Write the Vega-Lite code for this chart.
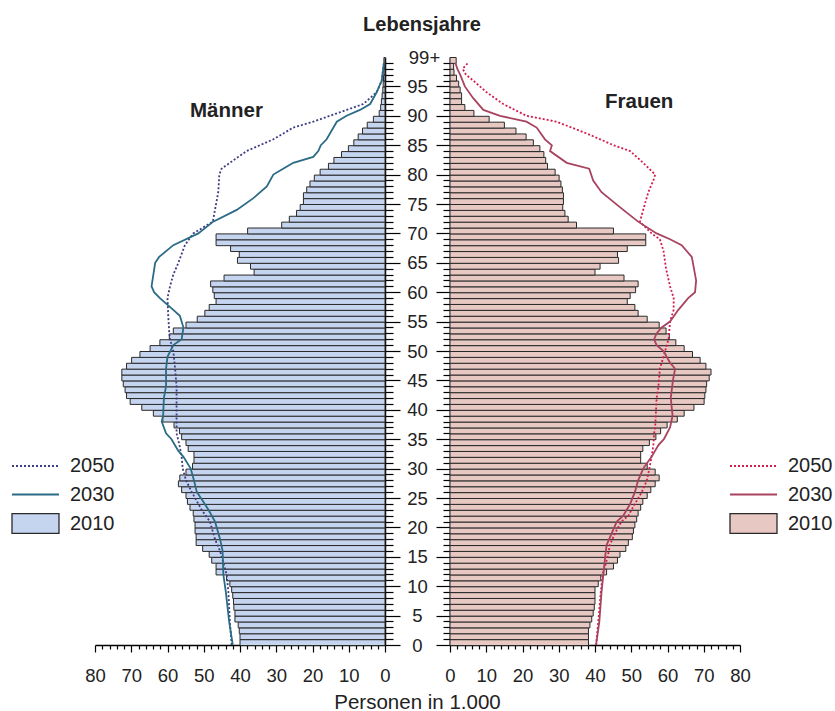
{
  "$schema": "https://vega.github.io/schema/vega-lite/v6.json",
  "background": "white",
  "padding": {"left": 11, "top": 14, "right": 0, "bottom": 0},
  "config": {
    "font": "Liberation Sans",
    "view": {"stroke": null},
    "axis": {"grid": false, "domainColor": "#000", "domainWidth": 1.5, "tickColor": "#000", "tickWidth": 1.2, "labelColor": "#222", "labelFont": "Liberation Sans", "labelFontSize": 18.5, "labelOverlap": false, "labelBound": false, "labelFlush": false},
    "legend": {"labelFont": "Liberation Sans", "labelFontSize": 20, "labelColor": "#222", "padding": 0, "title": null, "symbolSize": 2209, "labelOffset": 10},
    "title": {"font": "Liberation Sans", "color": "#222"}
  },
  "title": {"text": "Lebensjahre", "fontSize": 20, "fontWeight": "bold", "anchor": "middle", "offset": 14},
  "bounds": "flush",
  "spacing": 65,
  "resolve": {"scale": {"fill": "independent", "stroke": "independent"}, "legend": {"fill": "independent", "stroke": "independent"}},
  "datasets": {
    "maenner": [
      {"year":"2010","age":0,"value":40.0},{"year":"2010","age":1,"value":40.0},{"year":"2010","age":2,"value":40.2},{"year":"2010","age":3,"value":40.5},{"year":"2010","age":4,"value":41.4},{"year":"2010","age":5,"value":41.4},{"year":"2010","age":6,"value":41.7},{"year":"2010","age":7,"value":41.8},{"year":"2010","age":8,"value":42.0},{"year":"2010","age":9,"value":42.3},
      {"year":"2010","age":10,"value":42.8},{"year":"2010","age":11,"value":43.7},{"year":"2010","age":12,"value":46.6},{"year":"2010","age":13,"value":46.6},{"year":"2010","age":14,"value":47.8},{"year":"2010","age":15,"value":48.5},{"year":"2010","age":16,"value":50.3},{"year":"2010","age":17,"value":52.1},{"year":"2010","age":18,"value":52.1},{"year":"2010","age":19,"value":52.4},
      {"year":"2010","age":20,"value":52.4},{"year":"2010","age":21,"value":52.7},{"year":"2010","age":22,"value":52.9},{"year":"2010","age":23,"value":53.8},{"year":"2010","age":24,"value":54.5},{"year":"2010","age":25,"value":54.9},{"year":"2010","age":26,"value":56.1},{"year":"2010","age":27,"value":57.0},{"year":"2010","age":28,"value":56.6},{"year":"2010","age":29,"value":54.9},
      {"year":"2010","age":30,"value":53.1},{"year":"2010","age":31,"value":52.7},{"year":"2010","age":32,"value":52.7},{"year":"2010","age":33,"value":54.3},{"year":"2010","age":34,"value":54.9},{"year":"2010","age":35,"value":56.1},{"year":"2010","age":36,"value":56.7},{"year":"2010","age":37,"value":58.2},{"year":"2010","age":38,"value":61.3},{"year":"2010","age":39,"value":63.9},
      {"year":"2010","age":40,"value":67.1},{"year":"2010","age":41,"value":70.3},{"year":"2010","age":42,"value":71.3},{"year":"2010","age":43,"value":71.7},{"year":"2010","age":44,"value":72.2},{"year":"2010","age":45,"value":72.6},{"year":"2010","age":46,"value":72.6},{"year":"2010","age":47,"value":71.3},{"year":"2010","age":48,"value":69.9},{"year":"2010","age":49,"value":67.6},
      {"year":"2010","age":50,"value":64.8},{"year":"2010","age":51,"value":62.1},{"year":"2010","age":52,"value":59.5},{"year":"2010","age":53,"value":58.4},{"year":"2010","age":54,"value":54.9},{"year":"2010","age":55,"value":51.8},{"year":"2010","age":56,"value":49.7},{"year":"2010","age":57,"value":48.5},{"year":"2010","age":58,"value":46.6},{"year":"2010","age":59,"value":47.1},
      {"year":"2010","age":60,"value":47.5},{"year":"2010","age":61,"value":48.1},{"year":"2010","age":62,"value":44.4},{"year":"2010","age":63,"value":36.1},{"year":"2010","age":64,"value":37.1},{"year":"2010","age":65,"value":40.7},{"year":"2010","age":66,"value":40.2},{"year":"2010","age":67,"value":42.6},{"year":"2010","age":68,"value":46.6},{"year":"2010","age":69,"value":46.6},
      {"year":"2010","age":70,"value":37.9},{"year":"2010","age":71,"value":28.5},{"year":"2010","age":72,"value":26.4},{"year":"2010","age":73,"value":24.4},{"year":"2010","age":74,"value":23.4},{"year":"2010","age":75,"value":22.5},{"year":"2010","age":76,"value":22.5},{"year":"2010","age":77,"value":21.6},{"year":"2010","age":78,"value":20.7},{"year":"2010","age":79,"value":19.5},
      {"year":"2010","age":80,"value":17.9},{"year":"2010","age":81,"value":15.6},{"year":"2010","age":82,"value":14.1},{"year":"2010","age":83,"value":12.0},{"year":"2010","age":84,"value":10.1},{"year":"2010","age":85,"value":8.6},{"year":"2010","age":86,"value":7.4},{"year":"2010","age":87,"value":6.2},{"year":"2010","age":88,"value":4.9},{"year":"2010","age":89,"value":3.2},
      {"year":"2010","age":90,"value":1.6},{"year":"2010","age":91,"value":1.2},{"year":"2010","age":92,"value":1.0},{"year":"2010","age":93,"value":0.8},{"year":"2010","age":94,"value":0.6},{"year":"2010","age":95,"value":0.5},{"year":"2010","age":96,"value":0.4},{"year":"2010","age":97,"value":0.3},{"year":"2010","age":98,"value":0.2},{"year":"2010","age":99,"value":0.3},
      {"year":"2030","age":0,"value":42.0},{"year":"2030","age":4,"value":43.0},{"year":"2030","age":9,"value":43.9},{"year":"2030","age":12,"value":44.6},{"year":"2030","age":16,"value":44.8},{"year":"2030","age":18,"value":45.5},{"year":"2030","age":21,"value":46.9},{"year":"2030","age":23,"value":48.7},{"year":"2030","age":25,"value":50.8},{"year":"2030","age":26,"value":51.9},{"year":"2030","age":28,"value":52.7},{"year":"2030","age":30,"value":53.6},{"year":"2030","age":32,"value":55.6},{"year":"2030","age":33,"value":57.0},{"year":"2030","age":35,"value":58.9},{"year":"2030","age":36,"value":60.4},{"year":"2030","age":38,"value":61.6},{"year":"2030","age":39,"value":61.2},{"year":"2030","age":42,"value":61.0},{"year":"2030","age":44,"value":60.4},{"year":"2030","age":47,"value":60.4},{"year":"2030","age":49,"value":60.0},{"year":"2030","age":51,"value":58.4},{"year":"2030","age":52,"value":56.1},{"year":"2030","age":54,"value":55.6},{"year":"2030","age":56,"value":56.6},{"year":"2030","age":57,"value":58.4},{"year":"2030","age":59,"value":62.1},{"year":"2030","age":60,"value":63.7},{"year":"2030","age":61,"value":64.4},{"year":"2030","age":63,"value":63.9},{"year":"2030","age":65,"value":63.4},{"year":"2030","age":66,"value":62.3},{"year":"2030","age":68,"value":58.4},{"year":"2030","age":70,"value":51.5},{"year":"2030","age":72,"value":47.4},{"year":"2030","age":74,"value":40.9},{"year":"2030","age":76,"value":36.3},{"year":"2030","age":78,"value":32.6},{"year":"2030","age":80,"value":30.8},{"year":"2030","age":81,"value":28.1},{"year":"2030","age":82,"value":25.3},{"year":"2030","age":83,"value":19.8},{"year":"2030","age":84,"value":18.4},{"year":"2030","age":85,"value":17.7},{"year":"2030","age":86,"value":16.1},{"year":"2030","age":89,"value":13.3},{"year":"2030","age":90,"value":10.6},{"year":"2030","age":91,"value":6.9},{"year":"2030","age":92,"value":4.1},{"year":"2030","age":94,"value":2.3},{"year":"2030","age":96,"value":0.9},{"year":"2030","age":98,"value":0.5},{"year":"2030","age":99,"value":0.3},
      {"year":"2050","age":0,"value":42.3},{"year":"2050","age":4,"value":42.8},{"year":"2050","age":9,"value":43.2},{"year":"2050","age":12,"value":43.7},{"year":"2050","age":16,"value":45.5},{"year":"2050","age":18,"value":46.9},{"year":"2050","age":21,"value":48.3},{"year":"2050","age":23,"value":50.6},{"year":"2050","age":25,"value":52.4},{"year":"2050","age":26,"value":53.3},{"year":"2050","age":28,"value":54.9},{"year":"2050","age":30,"value":55.8},{"year":"2050","age":32,"value":56.1},{"year":"2050","age":34,"value":56.7},{"year":"2050","age":36,"value":57.5},{"year":"2050","age":42,"value":57.5},{"year":"2050","age":44,"value":57.5},{"year":"2050","age":47,"value":57.9},{"year":"2050","age":50,"value":58.4},{"year":"2050","age":52,"value":59.3},{"year":"2050","age":53,"value":59.5},{"year":"2050","age":56,"value":59.8},{"year":"2050","age":59,"value":60.0},{"year":"2050","age":61,"value":59.3},{"year":"2050","age":63,"value":58.4},{"year":"2050","age":65,"value":57.0},{"year":"2050","age":68,"value":55.2},{"year":"2050","age":70,"value":52.9},{"year":"2050","age":72,"value":47.5},{"year":"2050","age":74,"value":46.9},{"year":"2050","age":77,"value":46.0},{"year":"2050","age":80,"value":45.7},{"year":"2050","age":81,"value":45.1},{"year":"2050","age":82,"value":42.8},{"year":"2050","age":84,"value":38.2},{"year":"2050","age":85,"value":34.5},{"year":"2050","age":86,"value":30.8},{"year":"2050","age":88,"value":25.3},{"year":"2050","age":89,"value":19.8},{"year":"2050","age":90,"value":15.2},{"year":"2050","age":91,"value":10.6},{"year":"2050","age":92,"value":6.0},{"year":"2050","age":94,"value":2.3},{"year":"2050","age":96,"value":0.9},{"year":"2050","age":98,"value":0.5},{"year":"2050","age":99,"value":0.3}
    ],
    "frauen": [
      {"year":"2010","age":0,"value":38.2},{"year":"2010","age":1,"value":38.2},{"year":"2010","age":2,"value":38.2},{"year":"2010","age":3,"value":38.6},{"year":"2010","age":4,"value":39.1},{"year":"2010","age":5,"value":39.5},{"year":"2010","age":6,"value":39.8},{"year":"2010","age":7,"value":40.0},{"year":"2010","age":8,"value":40.0},{"year":"2010","age":9,"value":40.0},
      {"year":"2010","age":10,"value":40.9},{"year":"2010","age":11,"value":41.6},{"year":"2010","age":12,"value":43.2},{"year":"2010","age":13,"value":45.1},{"year":"2010","age":14,"value":46.2},{"year":"2010","age":15,"value":46.9},{"year":"2010","age":16,"value":48.5},{"year":"2010","age":17,"value":49.2},{"year":"2010","age":18,"value":50.3},{"year":"2010","age":19,"value":50.6},
      {"year":"2010","age":20,"value":51.0},{"year":"2010","age":21,"value":51.5},{"year":"2010","age":22,"value":51.9},{"year":"2010","age":23,"value":52.6},{"year":"2010","age":24,"value":53.2},{"year":"2010","age":25,"value":54.4},{"year":"2010","age":26,"value":55.4},{"year":"2010","age":27,"value":56.6},{"year":"2010","age":28,"value":57.7},{"year":"2010","age":29,"value":56.6},
      {"year":"2010","age":30,"value":54.4},{"year":"2010","age":31,"value":52.6},{"year":"2010","age":32,"value":52.6},{"year":"2010","age":33,"value":53.2},{"year":"2010","age":34,"value":55.0},{"year":"2010","age":35,"value":56.8},{"year":"2010","age":36,"value":58.1},{"year":"2010","age":37,"value":59.9},{"year":"2010","age":38,"value":62.7},{"year":"2010","age":39,"value":64.6},
      {"year":"2010","age":40,"value":67.3},{"year":"2010","age":41,"value":70.1},{"year":"2010","age":42,"value":70.3},{"year":"2010","age":43,"value":70.6},{"year":"2010","age":44,"value":70.8},{"year":"2010","age":45,"value":71.5},{"year":"2010","age":46,"value":72.0},{"year":"2010","age":47,"value":70.6},{"year":"2010","age":48,"value":69.0},{"year":"2010","age":49,"value":66.9},
      {"year":"2010","age":50,"value":64.6},{"year":"2010","age":51,"value":62.3},{"year":"2010","age":52,"value":60.5},{"year":"2010","age":53,"value":59.6},{"year":"2010","age":54,"value":57.7},{"year":"2010","age":55,"value":54.4},{"year":"2010","age":56,"value":51.9},{"year":"2010","age":57,"value":51.0},{"year":"2010","age":58,"value":48.9},{"year":"2010","age":59,"value":49.7},
      {"year":"2010","age":60,"value":51.2},{"year":"2010","age":61,"value":51.9},{"year":"2010","age":62,"value":48.0},{"year":"2010","age":63,"value":40.0},{"year":"2010","age":64,"value":41.4},{"year":"2010","age":65,"value":46.5},{"year":"2010","age":66,"value":46.2},{"year":"2010","age":67,"value":48.9},{"year":"2010","age":68,"value":54.0},{"year":"2010","age":69,"value":54.0},
      {"year":"2010","age":70,"value":45.1},{"year":"2010","age":71,"value":34.9},{"year":"2010","age":72,"value":32.6},{"year":"2010","age":73,"value":31.7},{"year":"2010","age":74,"value":31.1},{"year":"2010","age":75,"value":31.3},{"year":"2010","age":76,"value":31.3},{"year":"2010","age":77,"value":31.0},{"year":"2010","age":78,"value":30.6},{"year":"2010","age":79,"value":30.1},
      {"year":"2010","age":80,"value":29.0},{"year":"2010","age":81,"value":26.9},{"year":"2010","age":82,"value":26.4},{"year":"2010","age":83,"value":25.9},{"year":"2010","age":84,"value":24.8},{"year":"2010","age":85,"value":23.0},{"year":"2010","age":86,"value":21.0},{"year":"2010","age":87,"value":18.2},{"year":"2010","age":88,"value":15.0},{"year":"2010","age":89,"value":10.8},
      {"year":"2010","age":90,"value":6.6},{"year":"2010","age":91,"value":4.1},{"year":"2010","age":92,"value":3.2},{"year":"2010","age":93,"value":3.2},{"year":"2010","age":94,"value":2.8},{"year":"2010","age":95,"value":2.4},{"year":"2010","age":96,"value":1.8},{"year":"2010","age":97,"value":1.1},{"year":"2010","age":98,"value":1.0},{"year":"2010","age":99,"value":1.7},
      {"year":"2030","age":0,"value":40.3},{"year":"2030","age":4,"value":41.2},{"year":"2030","age":9,"value":41.8},{"year":"2030","age":12,"value":42.3},{"year":"2030","age":15,"value":42.8},{"year":"2030","age":17,"value":43.2},{"year":"2030","age":19,"value":44.6},{"year":"2030","age":21,"value":46.0},{"year":"2030","age":22,"value":47.8},{"year":"2030","age":24,"value":49.7},{"year":"2030","age":26,"value":51.0},{"year":"2030","age":28,"value":51.9},{"year":"2030","age":30,"value":53.3},{"year":"2030","age":32,"value":55.6},{"year":"2030","age":34,"value":57.5},{"year":"2030","age":35,"value":59.0},{"year":"2030","age":37,"value":60.7},{"year":"2030","age":39,"value":61.4},{"year":"2030","age":42,"value":60.9},{"year":"2030","age":45,"value":61.5},{"year":"2030","age":47,"value":62.1},{"year":"2030","age":48,"value":60.7},{"year":"2030","age":50,"value":58.9},{"year":"2030","age":51,"value":57.0},{"year":"2030","age":52,"value":56.3},{"year":"2030","age":53,"value":57.0},{"year":"2030","age":54,"value":58.4},{"year":"2030","age":55,"value":60.7},{"year":"2030","age":57,"value":63.0},{"year":"2030","age":59,"value":65.7},{"year":"2030","age":60,"value":67.6},{"year":"2030","age":62,"value":67.9},{"year":"2030","age":64,"value":67.3},{"year":"2030","age":66,"value":66.7},{"year":"2030","age":68,"value":63.9},{"year":"2030","age":69,"value":60.7},{"year":"2030","age":70,"value":57.0},{"year":"2030","age":72,"value":51.9},{"year":"2030","age":74,"value":47.8},{"year":"2030","age":77,"value":41.8},{"year":"2030","age":79,"value":39.5},{"year":"2030","age":81,"value":38.4},{"year":"2030","age":82,"value":32.2},{"year":"2030","age":84,"value":27.6},{"year":"2030","age":85,"value":28.1},{"year":"2030","age":86,"value":26.2},{"year":"2030","age":88,"value":23.9},{"year":"2030","age":89,"value":21.1},{"year":"2030","age":90,"value":13.8},{"year":"2030","age":91,"value":9.2},{"year":"2030","age":93,"value":6.4},{"year":"2030","age":95,"value":4.1},{"year":"2030","age":97,"value":2.8},{"year":"2030","age":98,"value":2.0},{"year":"2030","age":99,"value":1.5},
      {"year":"2050","age":0,"value":40.3},{"year":"2050","age":4,"value":40.9},{"year":"2050","age":9,"value":41.6},{"year":"2050","age":12,"value":42.1},{"year":"2050","age":15,"value":43.5},{"year":"2050","age":17,"value":44.1},{"year":"2050","age":19,"value":45.5},{"year":"2050","age":21,"value":47.3},{"year":"2050","age":22,"value":49.2},{"year":"2050","age":24,"value":51.0},{"year":"2050","age":26,"value":52.9},{"year":"2050","age":28,"value":54.3},{"year":"2050","age":30,"value":55.0},{"year":"2050","age":32,"value":55.6},{"year":"2050","age":34,"value":56.1},{"year":"2050","age":36,"value":56.3},{"year":"2050","age":37,"value":56.6},{"year":"2050","age":42,"value":57.0},{"year":"2050","age":44,"value":57.5},{"year":"2050","age":47,"value":57.9},{"year":"2050","age":49,"value":58.9},{"year":"2050","age":51,"value":59.8},{"year":"2050","age":52,"value":60.3},{"year":"2050","age":55,"value":60.7},{"year":"2050","age":57,"value":61.7},{"year":"2050","age":59,"value":61.7},{"year":"2050","age":61,"value":60.7},{"year":"2050","age":64,"value":59.6},{"year":"2050","age":67,"value":58.9},{"year":"2050","age":69,"value":57.9},{"year":"2050","age":70,"value":55.6},{"year":"2050","age":72,"value":52.4},{"year":"2050","age":74,"value":53.3},{"year":"2050","age":77,"value":54.7},{"year":"2050","age":79,"value":56.1},{"year":"2050","age":80,"value":56.6},{"year":"2050","age":82,"value":53.3},{"year":"2050","age":84,"value":49.7},{"year":"2050","age":85,"value":45.1},{"year":"2050","age":87,"value":37.7},{"year":"2050","age":89,"value":29.4},{"year":"2050","age":90,"value":21.1},{"year":"2050","age":92,"value":14.7},{"year":"2050","age":94,"value":10.1},{"year":"2050","age":96,"value":6.4},{"year":"2050","age":97,"value":4.4},{"year":"2050","age":98,"value":3.5},{"year":"2050","age":99,"value":5.0}
    ]
  },
  "hconcat": [
    {
      "width": 290, "height": 588,
      "data": {"name": "maenner"},
      "title": {"text": "Männer", "anchor": "start", "frame": "group", "dx": 95, "offset": -64, "fontSize": 20.5, "fontWeight": "bold"},
      "resolve": {"scale": {"stroke": "independent"}, "legend": {"stroke": "independent"}},
      "encoding": {
        "x": {"field": "value", "type": "quantitative",
              "scale": {"domain": [0, 80], "reverse": true, "nice": false, "zero": true},
              "axis": {"values": [0,2,4,6,8,10,12,14,16,18,20,22,24,26,28,30,32,34,36,38,40,42,44,46,48,50,52,54,56,58,60,62,64,66,68,70,72,74,76,78,80],
                       "labelExpr": "datum.value % 10 === 0 ? datum.label : ''",
                       "tickSize": {"condition": {"test": "datum.value % 10 === 0", "value": 7}, "value": 4},
                       "labelPadding": 14,
                       "title": "Personen in 1.000", "titleX": 322, "titleY": 63, "titleAlign": "center", "titleBaseline": "alphabetic", "titleFontWeight": "normal", "titleFontSize": 20.5, "titleColor": "#222"}}
      },
      "layer": [
        {
          "transform": [{"filter": "datum.year === '2010'"}],
          "mark": {"type": "bar", "stroke": "#2a2a2a", "strokeWidth": 1, "binSpacing": 0},
          "encoding": {
            "y": {"field": "age", "type": "quantitative", "bin": {"binned": true, "step": 1},
                  "scale": {"domain": [0, 100], "nice": false, "zero": false},
                  "axis": {"orient": "right", "title": null, "labels": false,
                           "values": [0,1,2,3,4,5,6,7,8,9,10,11,12,13,14,15,16,17,18,19,20,21,22,23,24,25,26,27,28,29,30,31,32,33,34,35,36,37,38,39,40,41,42,43,44,45,46,47,48,49,50,51,52,53,54,55,56,57,58,59,60,61,62,63,64,65,66,67,68,69,70,71,72,73,74,75,76,77,78,79,80,81,82,83,84,85,86,87,88,89,90,91,92,93,94,95,96,97,98,99],
                           "tickSize": {"condition": {"test": "datum.value % 5 === 0", "value": 15}, "value": 8}}},
            "fill": {"field": "year", "type": "nominal",
                     "scale": {"domain": ["2010"], "range": ["#c5d4ef"]},
                     "legend": {"orient": "none", "legendX": -84, "legendY": 442,
                                "symbolType": "M-1,-0.42H1V0.42H-1Z", "symbolStrokeColor": "#2a2a2a", "symbolStrokeWidth": 1.3, "symbolOpacity": 1}}
          }
        },
        {
          "transform": [{"filter": "datum.year === '2050'"}],
          "mark": {"type": "line", "strokeWidth": 1.8, "strokeDash": [2, 2]},
          "encoding": {
            "y": {"field": "age", "type": "quantitative", "bin": {"binned": true, "step": 1}, "bandPosition": 0.5},
            "stroke": {"field": "year", "type": "nominal",
                       "scale": {"domain": ["2050"], "range": ["#3d3d85"]},
                       "legend": {"orient": "none", "legendX": -84, "legendY": 384.5,
                                  "symbolType": "stroke", "symbolDash": [2, 2], "symbolStrokeWidth": 1.8, "symbolOpacity": 1}},
            "order": {"field": "age", "type": "quantitative"}
          }
        },
        {
          "transform": [{"filter": "datum.year === '2030'"}],
          "mark": {"type": "line", "strokeWidth": 1.8},
          "encoding": {
            "y": {"field": "age", "type": "quantitative", "bin": {"binned": true, "step": 1}, "bandPosition": 0.5},
            "stroke": {"field": "year", "type": "nominal",
                       "scale": {"domain": ["2030"], "range": ["#2b6b85"]},
                       "legend": {"orient": "none", "legendX": -84, "legendY": 413,
                                  "symbolType": "stroke", "symbolStrokeWidth": 1.8, "symbolOpacity": 1}},
            "order": {"field": "age", "type": "quantitative"}
          }
        }
      ]
    },
    {
      "width": 290, "height": 588,
      "data": {"name": "frauen"},
      "title": {"text": "Frauen", "anchor": "start", "frame": "group", "dx": 155, "offset": -64, "fontSize": 20.5, "fontWeight": "bold"},
      "resolve": {"scale": {"stroke": "independent"}, "legend": {"stroke": "independent"}},
      "encoding": {
        "x": {"field": "value", "type": "quantitative",
              "scale": {"domain": [0, 80], "nice": false, "zero": true},
              "axis": {"values": [0,2,4,6,8,10,12,14,16,18,20,22,24,26,28,30,32,34,36,38,40,42,44,46,48,50,52,54,56,58,60,62,64,66,68,70,72,74,76,78,80],
                       "labelExpr": "datum.value % 10 === 0 ? datum.label : ''",
                       "tickSize": {"condition": {"test": "datum.value % 10 === 0", "value": 7}, "value": 4},
                       "labelPadding": 14, "title": null}}
      },
      "layer": [
        {
          "transform": [{"filter": "datum.year === '2010'"}],
          "mark": {"type": "bar", "stroke": "#2a2a2a", "strokeWidth": 1, "binSpacing": 0},
          "encoding": {
            "y": {"field": "age", "type": "quantitative", "bin": {"binned": true, "step": 1},
                  "scale": {"domain": [0, 100], "nice": false, "zero": false},
                  "axis": {"orient": "left", "title": null,
                           "values": [0,1,2,3,4,5,6,7,8,9,10,11,12,13,14,15,16,17,18,19,20,21,22,23,24,25,26,27,28,29,30,31,32,33,34,35,36,37,38,39,40,41,42,43,44,45,46,47,48,49,50,51,52,53,54,55,56,57,58,59,60,61,62,63,64,65,66,67,68,69,70,71,72,73,74,75,76,77,78,79,80,81,82,83,84,85,86,87,88,89,90,91,92,93,94,95,96,97,98,99],
                           "labelExpr": "datum.value === 99 ? '99+' : (datum.value % 5 === 0 ? datum.label : '')",
                           "labelAlign": "center", "labelBaseline": "middle", "labelPadding": 19,
                           "labelOffset": {"condition": {"test": "datum.value === 99", "value": -5}, "value": 0},
                           "tickSize": {"condition": {"test": "datum.value % 5 === 0", "value": 14}, "value": 7}}},
            "fill": {"field": "year", "type": "nominal",
                     "scale": {"domain": ["2010"], "range": ["#e7c8c2"]},
                     "legend": {"orient": "none", "legendX": 279, "legendY": 442,
                                "symbolType": "M-1,-0.42H1V0.42H-1Z", "symbolStrokeColor": "#2a2a2a", "symbolStrokeWidth": 1.3, "symbolOpacity": 1}}
          }
        },
        {
          "transform": [{"filter": "datum.year === '2050'"}],
          "mark": {"type": "line", "strokeWidth": 1.8, "strokeDash": [2, 2]},
          "encoding": {
            "y": {"field": "age", "type": "quantitative", "bin": {"binned": true, "step": 1}, "bandPosition": 0.5},
            "stroke": {"field": "year", "type": "nominal",
                       "scale": {"domain": ["2050"], "range": ["#d41c4c"]},
                       "legend": {"orient": "none", "legendX": 279, "legendY": 384.5,
                                  "symbolType": "stroke", "symbolDash": [2, 2], "symbolStrokeWidth": 1.8, "symbolOpacity": 1}},
            "order": {"field": "age", "type": "quantitative"}
          }
        },
        {
          "transform": [{"filter": "datum.year === '2030'"}],
          "mark": {"type": "line", "strokeWidth": 1.8},
          "encoding": {
            "y": {"field": "age", "type": "quantitative", "bin": {"binned": true, "step": 1}, "bandPosition": 0.5},
            "stroke": {"field": "year", "type": "nominal",
                       "scale": {"domain": ["2030"], "range": ["#a8435f"]},
                       "legend": {"orient": "none", "legendX": 279, "legendY": 413,
                                  "symbolType": "stroke", "symbolStrokeWidth": 1.8, "symbolOpacity": 1}},
            "order": {"field": "age", "type": "quantitative"}
          }
        }
      ]
    }
  ]
}
